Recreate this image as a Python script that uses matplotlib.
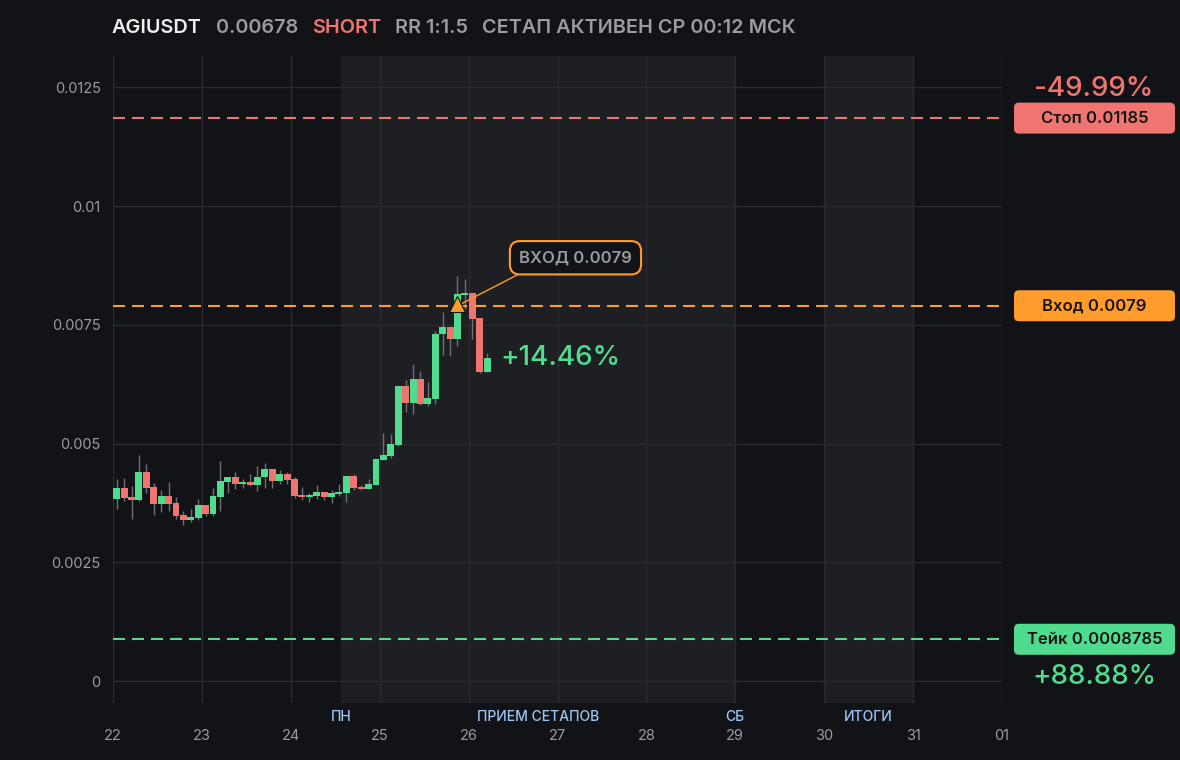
import numpy as np
import matplotlib
matplotlib.use("Agg")
import matplotlib.pyplot as plt
from matplotlib.patches import FancyBboxPatch
from matplotlib.transforms import blended_transform_factory, IdentityTransform

plt.rcParams['font.family'] = ['Inter', 'DejaVu Sans']

# 2h candles starting 22 00:00
opens = [0.003839, 0.004065, 0.003874, 0.003818, 0.004405, 0.004087, 0.003733, 0.003896, 0.003747, 0.003492,
         0.003393, 0.003435, 0.003704, 0.003520, 0.003881, 0.004200, 0.004299, 0.004157, 0.004193, 0.004136,
         0.004285, 0.004469, 0.004221, 0.004363, 0.004257, 0.003917, 0.003881, 0.003903, 0.003980, 0.003881,
         0.003945, 0.003966, 0.004320, 0.004087, 0.004051, 0.004136, 0.004660, 0.004745, 0.004979, 0.006211,
         0.005857, 0.006359, 0.005835, 0.005942, 0.007301, 0.007443, 0.007195, 0.008129, 0.008165, 0.007634, 0.006515]
closes = [0.004065, 0.003860, 0.003818, 0.004405, 0.004073, 0.003733, 0.003896, 0.003733, 0.003471, 0.003393,
          0.003449, 0.003704, 0.003520, 0.003896, 0.004214, 0.004299, 0.004157, 0.004193, 0.004136, 0.004299,
          0.004469, 0.004221, 0.004363, 0.004242, 0.003903, 0.003881, 0.003917, 0.003980, 0.003881, 0.003959,
          0.003980, 0.004320, 0.004073, 0.004051, 0.004150, 0.004681, 0.004766, 0.005000, 0.006211, 0.005857,
          0.006359, 0.005835, 0.005956, 0.007315, 0.007443, 0.007195, 0.008144, 0.008165, 0.007620, 0.006515, 0.006800]
highs = [0.004257, 0.004278, 0.004108, 0.004766, 0.004575, 0.004172, 0.004023, 0.004193, 0.003874, 0.003577,
         0.003619, 0.003832, 0.003704, 0.004065, 0.004639, 0.004299, 0.004405, 0.004257, 0.004363, 0.004533,
         0.004596, 0.004469, 0.004448, 0.004405, 0.004299, 0.004087, 0.003959, 0.004129, 0.003980, 0.004023,
         0.004150, 0.004320, 0.004363, 0.004129, 0.004257, 0.004681, 0.005212, 0.005191, 0.006211, 0.006338,
         0.006678, 0.006529, 0.006296, 0.007379, 0.007761, 0.007443, 0.008526, 0.008462, 0.008165, 0.007634, 0.006912]
lows = [0.003627, 0.003796, 0.003414, 0.003800, 0.003966, 0.003499, 0.003563, 0.003577, 0.003414, 0.003287,
        0.003350, 0.003393, 0.003478, 0.003478, 0.003584, 0.003966, 0.004051, 0.004073, 0.004115, 0.004009,
        0.004073, 0.004073, 0.004157, 0.004157, 0.003860, 0.003818, 0.003775, 0.003839, 0.003818, 0.003754,
        0.003903, 0.003775, 0.004030, 0.004030, 0.004051, 0.004136, 0.004660, 0.004703, 0.004943, 0.005658,
        0.005623, 0.005814, 0.005793, 0.005835, 0.006855, 0.006834, 0.007060, 0.007825, 0.007195, 0.006494, 0.006515]

day_labels = ["22", "23", "24", "25", "26", "27", "28", "29", "30", "31", "01"]
y_ticks = [0, 0.0025, 0.005, 0.0075, 0.01, 0.0125]
y_tick_labels = ["0", "0.0025", "0.005", "0.0075", "0.01", "0.0125"]

stop_price = 0.01185
entry_price = 0.0079
take_price = 0.0008785
entry_candle = 46
stop_pct_label = "-49.99%"
take_pct_label = "+88.88%"
now_pct_label = "+14.46%"
sessions = [(2.565, 7.0), (8.0, 9.0)]   # shaded periods, days from 22
session_labels = [(2.565, "ПН"), (4.78, "ПРИЕМ СЕТАПОВ"), (7.0, "СБ"), (8.5, "ИТОГИ")]

BG = '#121317'
SHADE = '#1e1f23'
GRID = '#2a2b30'
GREEN = '#4fdc8f'
RED = '#f0746f'
ORANGE = '#ff9c2b'
GRAY = '#9a9ca3'
WICK = '#6e7075'

fig = plt.figure(figsize=(11.8, 7.6), dpi=100, facecolor=BG)
ax = fig.add_axes([113/1180, 1-703/760, 889/1180, 647/760])
ax.set_facecolor(BG)
ax.set_xlim(0, 10)
ax.set_ylim(-0.000463, 0.013158)

for a, b in sessions:
    ax.axvspan(a, b, color=SHADE, zorder=0, lw=0)

ax.set_xticks(range(len(day_labels)))
ax.set_xticklabels(day_labels)
ax.set_yticks(y_ticks)
ax.set_yticklabels(y_tick_labels)
ax.tick_params(axis='both', length=0, colors=GRAY, labelsize=10.5)
ax.tick_params(axis='x', pad=19)
ax.tick_params(axis='y', pad=9)
ax.grid(True, color=GRID, lw=1)
ax.set_axisbelow(True)
for s in ax.spines.values():
    s.set_visible(False)

# candles
o = np.array(opens); c = np.array(closes); h = np.array(highs); l = np.array(lows)
t = np.arange(len(o)) * (2/24) + 1/24
up = c >= o
ax.vlines(t, l, h, color=WICK, lw=1, zorder=2)
body_h = np.maximum(np.abs(c - o), 0.00003)
ax.bar(t, body_h, bottom=np.minimum(o, c), width=0.078,
       color=np.where(up, GREEN, RED), zorder=3, lw=0)

# levels
dash = (0, (5.76, 3.36))
ax.axhline(stop_price, color=RED, lw=1.5, ls=dash, zorder=4)
ax.axhline(entry_price, color=ORANGE, lw=1.5, ls=dash, zorder=4)
ax.axhline(take_price, color=GREEN, lw=1.5, ls=dash, zorder=4)

# entry marker + callout
ax.plot(t[entry_candle], entry_price + 0.00003, marker='^', ms=11, color=ORANGE,
        mec='#111111', mew=0.8, zorder=6)
ax.annotate("ВХОД 0.0079", xy=(t[entry_candle], entry_price), xytext=(118, 48),
            textcoords='offset pixels', ha='center', va='center',
            fontsize=12, fontweight='semibold', color=GRAY, zorder=7,
            bbox=dict(boxstyle='round,pad=0.55,rounding_size=0.6', fc=BG, ec=ORANGE, lw=1.5),
            arrowprops=dict(arrowstyle='-', color=ORANGE, lw=1, shrinkA=0, shrinkB=4,
                            relpos=(0.15, 0)))

# pnl of current price
ax.text(t[-1] + 0.15, closes[-1], now_pct_label, color=GREEN, fontsize=20,
        fontweight='medium', va='center', ha='left', zorder=7)

# right-side price boxes
fig.canvas.draw()
fx = blended_transform_factory(fig.transFigure, ax.transData)
box_l, box_r = 1014, 1175
for price, label, col in [(stop_price, "Стоп 0.01185", RED),
                          (entry_price, "Вход 0.0079", ORANGE),
                          (take_price, "Тейк 0.0008785", GREEN)]:
    yp = ax.transData.transform((0, price))[1]
    fig.patches.append(FancyBboxPatch((box_l + 5, yp - 10.5), box_r - box_l - 10, 21,
                                      boxstyle='round,pad=5', fc=col, ec='none',
                                      transform=IdentityTransform(), figure=fig))
    fig.text(1094.5/1180, price, label, transform=fx, ha='center', va='center',
             fontsize=12, fontweight='semibold', color='#151515')

fig.text(1094/1180, 1-89/760, stop_pct_label, ha='center', va='center',
         fontsize=20, fontweight='medium', color=RED)
fig.text(1094/1180, 1-677/760, take_pct_label, ha='center', va='center',
         fontsize=20, fontweight='medium', color=GREEN)

# session labels
bx = blended_transform_factory(ax.transData, ax.transAxes)
for x, lab in session_labels:
    ax.text(x, -14/647, lab, transform=bx, ha='center', va='center',
            fontsize=10, fontweight='medium', color='#9ec5f5', clip_on=False)

# header
header = [("AGIUSDT", '#f0f0f2'), ("0.00678", GRAY), ("SHORT", RED),
          ("RR 1:1.5", GRAY), ("СЕТАП АКТИВЕН СР 00:12 МСК", GRAY)]
r = fig.canvas.get_renderer()
xpos = 112
for txt, col in header:
    tx = fig.text(xpos/1180, 1-28/760, txt, ha='left', va='center', fontsize=14.3,
                  fontweight='semibold', color=col)
    xpos = tx.get_window_extent(r).x1 + 14

fig.savefig("out.png", dpi=100, facecolor=BG)
